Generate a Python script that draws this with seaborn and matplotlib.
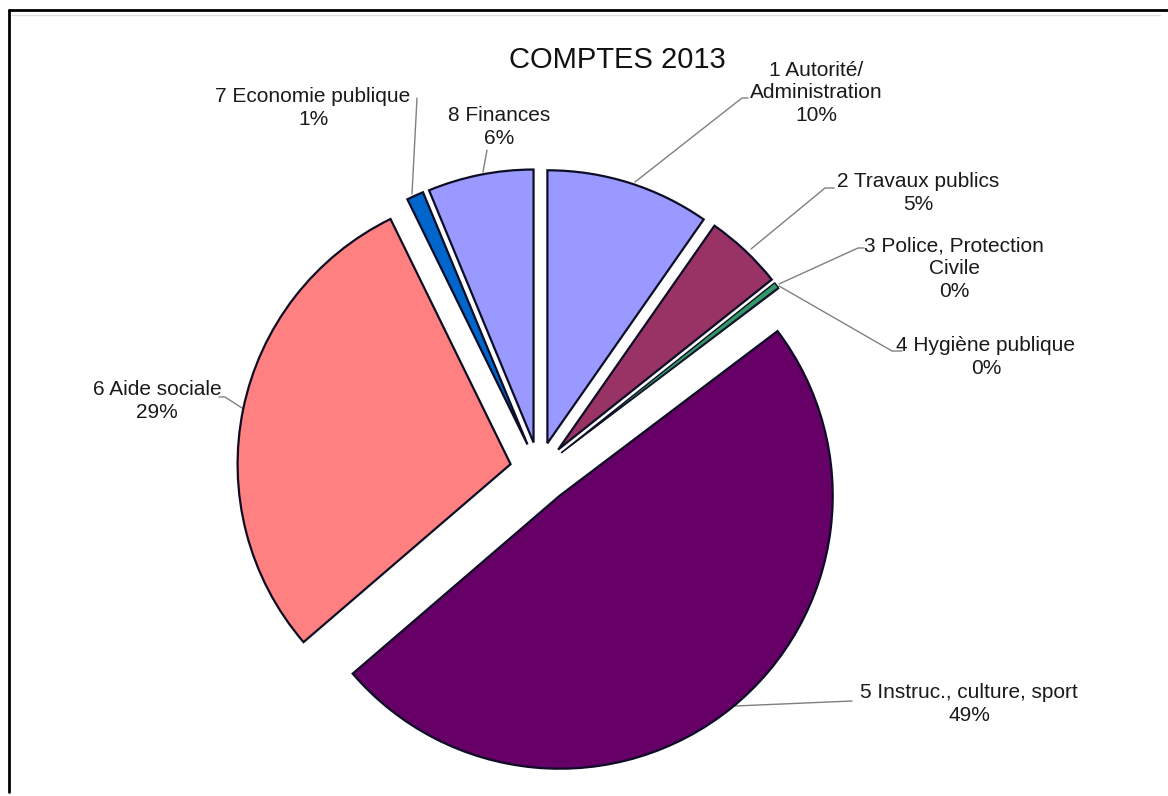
import matplotlib
matplotlib.use("Agg")
import matplotlib.pyplot as plt
import seaborn as sns
from matplotlib.lines import Line2D

# ---- data ----
categories = ["1 Autorité/\nAdministration", "2 Travaux publics", "3 Police, Protection\nCivile",
              "4 Hygiène publique", "5 Instruc., culture, sport", "6 Aide sociale",
              "7 Economie publique", "8 Finances"]
shares = [9.7, 4.6, 0.35, 0.05, 49.0, 29.05, 1.0, 6.25]
title = "COMPTES 2013"

# ---- style ----
colors = ["#9999FF", "#993366", "#339966", "#CCFFFF", "#660066", "#FF8080", "#0066CC", "#9999FF"]
explode = [28, 28, 28, 28, 33, 29, 28, 28]
edge_widths = [1.6, 1.6, 1.0, 0.6, 1.6, 1.6, 1.6, 1.6]

sns.set_theme(style="white")
plt.rcParams["font.family"] = ["Liberation Sans", "DejaVu Sans"]

W, H = 1168, 796
fig = plt.figure(figsize=(W / 100, H / 100), dpi=100)
fig.patch.set_facecolor("white")
ax = fig.add_axes([0, 0, 1, 1])

def py(y):
    return H - y

wedges, _ = ax.pie(shares, colors=colors, explode=explode, startangle=90, counterclock=False,
                   radius=273, center=(539, py(470)),
                   wedgeprops=dict(edgecolor="#0d0d26", linewidth=1.6), frame=False)
for w, lw in zip(wedges, edge_widths):
    w.set_linewidth(lw)
ax.set_xlim(0, W)
ax.set_ylim(0, H)
ax.set_aspect("equal")
ax.axis("off")

# title
ax.text(617, py(60), title, ha="center", va="center", fontsize=21, color="#111111")

# labels (center positions in pixel coords)
label_pos = [(816, 93), (918, 193), (954, 269), (986, 357),
             (969, 704), (157, 401), (313, 108), (499, 127)]
for cat, v, (x, y) in zip(categories, shares, label_pos):
    pct = int(v + 0.5)
    ax.text(x, py(y), f"{cat}\n{pct}%", ha="center", va="center",
            fontsize=15, color="#1a1a1a", linespacing=1.25)

# leader lines
leaders = [
    [(635, 182), (742, 98), (748, 98)],
    [(751, 249), (825, 188), (834, 188)],
    [(779, 284), (858, 248), (864, 248)],
    [(779, 286), (892, 351), (902, 351)],
    [(735, 706), (852, 701)],
    [(242, 408), (225, 397), (219, 397)],
    [(412, 194), (417, 98)],
    [(483, 172), (487, 150)],
]
for pts in leaders:
    xs = [p[0] for p in pts]
    ys = [py(p[1]) for p in pts]
    ax.plot(xs, ys, color="#808080", linewidth=1.0, zorder=0)

# frame lines (top and left)
fig.add_artist(Line2D([9 / W, 1.0], [1 - 10 / H, 1 - 10 / H], color="black", linewidth=2.0))
fig.add_artist(Line2D([9 / W, 9 / W], [1 - 10 / H, 1 - 792 / H], color="black", linewidth=2.0))
fig.add_artist(Line2D([12 / W, 1160 / W], [1 - 15 / H, 1 - 15 / H], color="#dddddd", linewidth=1.0))

fig.savefig("out.png", dpi=100, facecolor="white")
